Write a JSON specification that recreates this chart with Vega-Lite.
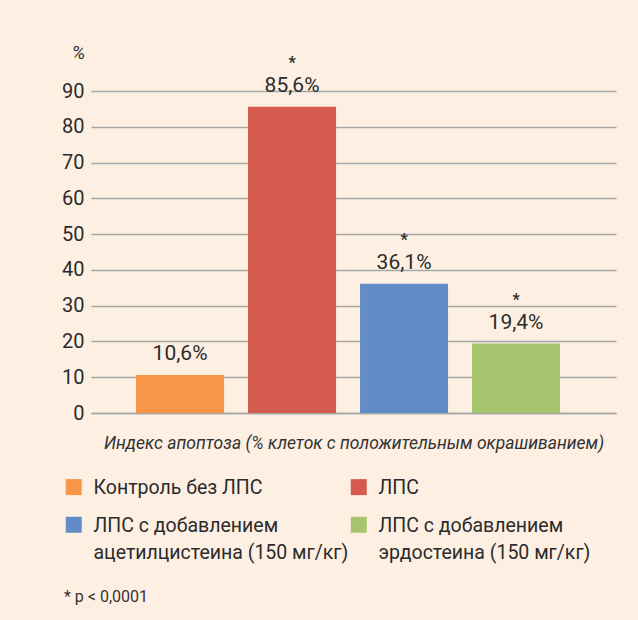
{
  "$schema": "https://vega.github.io/schema/vega-lite/v6.json",
  "width": 525,
  "height": 322,
  "autosize": {"type": "none"},
  "padding": {"left": 91, "top": 91, "right": 22, "bottom": 207},
  "background": "#FDF0E3",
  "config": {"view": {"stroke": null}, "font": "Roboto"},
  "data": {
    "values": [
      {"group": "Контроль без ЛПС", "value": 10.6, "label": "10,6%", "sig": ""},
      {"group": "ЛПС", "value": 85.6, "label": "85,6%", "sig": "*"},
      {"group": "ЛПС с добавлением ацетилцистеина (150 мг/кг)", "value": 36.1, "label": "36,1%", "sig": "*"},
      {"group": "ЛПС с добавлением эрдостеина (150 мг/кг)", "value": 19.4, "label": "19,4%", "sig": "*"}
    ]
  },
  "encoding": {
    "x": {
      "field": "group",
      "type": "nominal",
      "sort": null,
      "scale": {"paddingInner": 0.214, "paddingOuter": 0.451, "align": 0.446},
      "axis": {
        "labels": false,
        "ticks": false,
        "domainColor": "#A6A6A6",
        "domainWidth": 1.5,
        "title": "Индекс апоптоза (% клеток с положительным окрашиванием)",
        "titleFont": "Roboto",
        "titleFontStyle": "italic",
        "titleFontWeight": "normal",
        "titleFontSize": 17.5,
        "titleColor": "#333333",
        "titlePadding": 21
      }
    },
    "y": {
      "field": "value",
      "type": "quantitative",
      "scale": {"domain": [0, 90], "nice": false},
      "axis": {
        "values": [0, 10, 20, 30, 40, 50, 60, 70, 80, 90],
        "grid": true,
        "gridColor": "#A6A6A6",
        "gridWidth": 1.5,
        "domain": false,
        "ticks": false,
        "labelPadding": 7,
        "labelFontSize": 20,
        "labelColor": "#2B2B2B",
        "title": "%",
        "titleAngle": 0,
        "titleX": -13,
        "titleY": -39,
        "titleAlign": "center",
        "titleBaseline": "middle",
        "titleFontStyle": "italic",
        "titleFontWeight": "normal",
        "titleFontSize": 19,
        "titleColor": "#333333"
      }
    }
  },
  "layer": [
    {
      "mark": {"type": "bar"},
      "encoding": {
        "color": {
          "field": "group",
          "type": "nominal",
          "sort": null,
          "scale": {"range": ["#F79646", "#D55B4E", "#628CC5", "#A6C46E"]},
          "legend": {
            "orient": "none",
            "legendX": -27,
            "legendY": 386,
            "direction": "horizontal",
            "columns": 2,
            "padding": 0,
            "symbolType": "square",
            "symbolSize": 256,
            "symbolStrokeWidth": 0,
            "labelFontSize": 19.5,
            "labelFont": "Roboto",
            "labelColor": "#2B2B2B",
            "labelOffset": 10,
            "labelLimit": 400,
            "labelBaseline": "alphabetic",
            "columnPadding": 0,
            "rowPadding": 17,
            "labelExpr": "indexof(datum.label, 'ацетил') >= 0 ? ['ЛПС с добавлением', 'ацетилцистеина (150 мг/кг)'] : indexof(datum.label, 'эрдо') >= 0 ? ['ЛПС с добавлением', 'эрдостеина (150 мг/кг)'] : datum.label",
            "encode": {
              "labels": {"update": {"dy": {"value": 7}, "lineHeight": {"value": 27}}}
            },
            "title": "* p < 0,0001",
            "titleOrient": "bottom",
            "titleAnchor": "start",
            "titleFontSize": 16,
            "titleFontWeight": "normal",
            "titleColor": "#333333",
            "titlePadding": 27
          }
        }
      }
    },
    {
      "mark": {"type": "text", "dy": -15, "baseline": "alphabetic", "fontSize": 21, "color": "#2B2B2B"},
      "encoding": {"text": {"field": "label"}}
    },
    {
      "mark": {"type": "text", "dy": -39, "baseline": "alphabetic", "fontSize": 16, "fontWeight": "bold", "color": "#2B2B2B"},
      "encoding": {"text": {"field": "sig"}}
    }
  ]
}
